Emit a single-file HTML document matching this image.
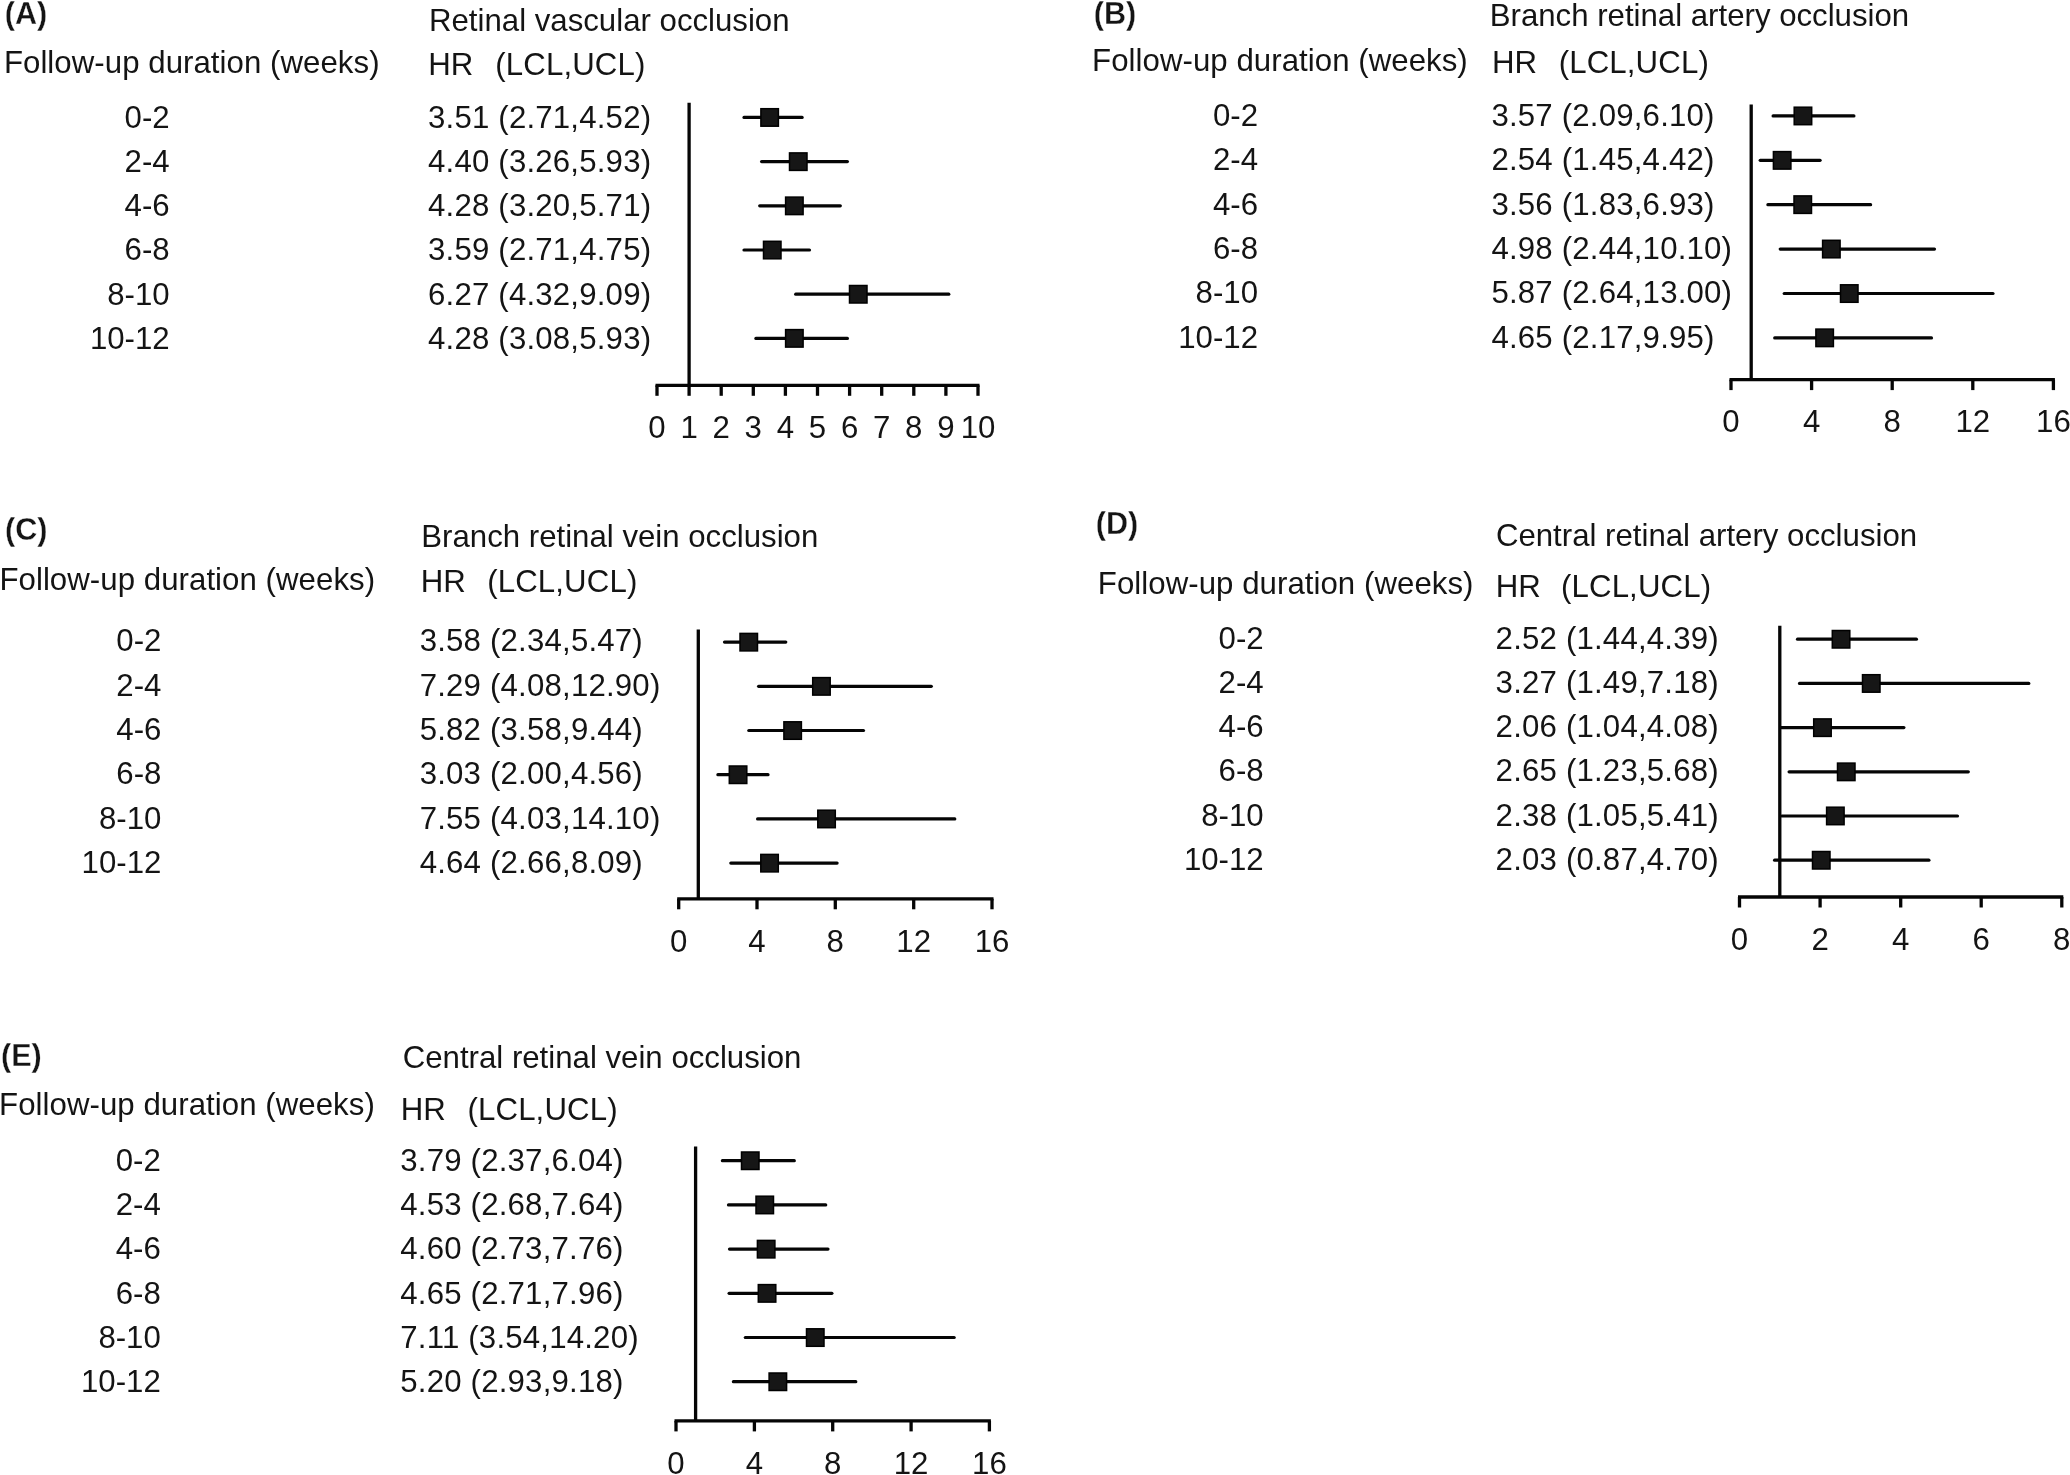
<!DOCTYPE html>
<html lang="en"><head><meta charset="utf-8"><title>Forest plots</title>
<style>
html,body{margin:0;padding:0;background:#fff}
body{width:2070px;height:1475px;overflow:hidden}
svg{display:block;filter:blur(0.55px)}
svg text{font-family:"Liberation Sans",sans-serif;font-size:31.2px;fill:#141414}
svg .b{font-weight:bold;font-size:30.6px;stroke:#fff;stroke-width:0.3px}
svg .v{letter-spacing:0.19px}
svg .w{letter-spacing:0.13px}
svg .h{letter-spacing:0.05px}
svg .e{text-anchor:end}
svg .m{text-anchor:middle}
svg .ln{stroke:#050505;fill:none}
svg .sq{fill:#161616;stroke:#000;stroke-width:1.5}
</style></head>
<body>
<svg width="2070" height="1475" viewBox="0 0 2070 1475">
<rect width="2070" height="1475" fill="#ffffff"/>
<g>
<text class="b" x="4.7" y="23.9">(A)</text>
<text x="429.0" y="31.4">Retinal vascular occlusion</text>
<text class="h" x="3.9" y="72.9">Follow-up duration (weeks)</text>
<text x="428.3" y="74.8">HR</text>
<text class="w" x="495.3" y="74.8">(LCL,UCL)</text>
<text class="e" x="169.7" y="127.8">0-2</text>
<text class="v" x="428.0" y="127.8">3.51 (2.71,4.52)</text>
<line class="ln" x1="744.0" y1="117.4" x2="802.1" y2="117.4" stroke-width="3.2" stroke-linecap="round"/>
<rect class="sq" x="760.9" y="108.7" width="17.5" height="17.5"/>
<text class="e" x="169.7" y="172.0">2-4</text>
<text class="v" x="428.0" y="172.0">4.40 (3.26,5.93)</text>
<line class="ln" x1="761.6" y1="161.6" x2="847.4" y2="161.6" stroke-width="3.2" stroke-linecap="round"/>
<rect class="sq" x="789.5" y="152.9" width="17.5" height="17.5"/>
<text class="e" x="169.7" y="216.2">4-6</text>
<text class="v" x="428.0" y="216.2">4.28 (3.20,5.71)</text>
<line class="ln" x1="759.7" y1="205.8" x2="840.3" y2="205.8" stroke-width="3.2" stroke-linecap="round"/>
<rect class="sq" x="785.6" y="197.1" width="17.5" height="17.5"/>
<text class="e" x="169.7" y="260.4">6-8</text>
<text class="v" x="428.0" y="260.4">3.59 (2.71,4.75)</text>
<line class="ln" x1="744.0" y1="250.0" x2="809.5" y2="250.0" stroke-width="3.2" stroke-linecap="round"/>
<rect class="sq" x="763.5" y="241.3" width="17.5" height="17.5"/>
<text class="e" x="169.7" y="304.6">8-10</text>
<text class="v" x="428.0" y="304.6">6.27 (4.32,9.09)</text>
<line class="ln" x1="795.7" y1="294.2" x2="948.8" y2="294.2" stroke-width="3.2" stroke-linecap="round"/>
<rect class="sq" x="849.5" y="285.5" width="17.5" height="17.5"/>
<text class="e" x="169.7" y="348.8">10-12</text>
<text class="v" x="428.0" y="348.8">4.28 (3.08,5.93)</text>
<line class="ln" x1="755.9" y1="338.4" x2="847.4" y2="338.4" stroke-width="3.2" stroke-linecap="round"/>
<rect class="sq" x="785.6" y="329.6" width="17.5" height="17.5"/>
<line class="ln" x1="689.1" y1="102.7" x2="689.1" y2="385.3" stroke-width="3.3"/>
<line class="ln" x1="655.5" y1="385.3" x2="979.5" y2="385.3" stroke-width="3.3"/>
<line class="ln" x1="657.0" y1="385.3" x2="657.0" y2="395.8" stroke-width="3.3"/>
<text class="m" x="657.0" y="437.5">0</text>
<line class="ln" x1="689.1" y1="385.3" x2="689.1" y2="395.8" stroke-width="3.3"/>
<text class="m" x="689.1" y="437.5">1</text>
<line class="ln" x1="721.2" y1="385.3" x2="721.2" y2="395.8" stroke-width="3.3"/>
<text class="m" x="721.2" y="437.5">2</text>
<line class="ln" x1="753.3" y1="385.3" x2="753.3" y2="395.8" stroke-width="3.3"/>
<text class="m" x="753.3" y="437.5">3</text>
<line class="ln" x1="785.4" y1="385.3" x2="785.4" y2="395.8" stroke-width="3.3"/>
<text class="m" x="785.4" y="437.5">4</text>
<line class="ln" x1="817.5" y1="385.3" x2="817.5" y2="395.8" stroke-width="3.3"/>
<text class="m" x="817.5" y="437.5">5</text>
<line class="ln" x1="849.6" y1="385.3" x2="849.6" y2="395.8" stroke-width="3.3"/>
<text class="m" x="849.6" y="437.5">6</text>
<line class="ln" x1="881.7" y1="385.3" x2="881.7" y2="395.8" stroke-width="3.3"/>
<text class="m" x="881.7" y="437.5">7</text>
<line class="ln" x1="913.8" y1="385.3" x2="913.8" y2="395.8" stroke-width="3.3"/>
<text class="m" x="913.8" y="437.5">8</text>
<line class="ln" x1="945.9" y1="385.3" x2="945.9" y2="395.8" stroke-width="3.3"/>
<text class="m" x="945.9" y="437.5">9</text>
<line class="ln" x1="978.0" y1="385.3" x2="978.0" y2="395.8" stroke-width="3.3"/>
<text class="m" x="978.0" y="437.5">10</text>
</g>
<g>
<text class="b" x="1093.8" y="24.0">(B)</text>
<text x="1489.7" y="26.4">Branch retinal artery occlusion</text>
<text class="h" x="1092.1" y="71.1">Follow-up duration (weeks)</text>
<text x="1492.0" y="72.5">HR</text>
<text class="w" x="1558.7" y="72.5">(LCL,UCL)</text>
<text class="e" x="1258.0" y="125.8">0-2</text>
<text class="v" x="1491.4" y="125.8">3.57 (2.09,6.10)</text>
<line class="ln" x1="1773.1" y1="115.9" x2="1853.9" y2="115.9" stroke-width="3.2" stroke-linecap="round"/>
<rect class="sq" x="1794.2" y="107.2" width="17.5" height="17.5"/>
<text class="e" x="1258.0" y="170.2">2-4</text>
<text class="v" x="1491.4" y="170.2">2.54 (1.45,4.42)</text>
<line class="ln" x1="1760.2" y1="160.3" x2="1820.1" y2="160.3" stroke-width="3.2" stroke-linecap="round"/>
<rect class="sq" x="1773.4" y="151.6" width="17.5" height="17.5"/>
<text class="e" x="1258.0" y="214.6">4-6</text>
<text class="v" x="1491.4" y="214.6">3.56 (1.83,6.93)</text>
<line class="ln" x1="1767.9" y1="204.7" x2="1870.6" y2="204.7" stroke-width="3.2" stroke-linecap="round"/>
<rect class="sq" x="1794.0" y="195.9" width="17.5" height="17.5"/>
<text class="e" x="1258.0" y="259.0">6-8</text>
<text class="v" x="1491.4" y="259.0">4.98 (2.44,10.10)</text>
<line class="ln" x1="1780.2" y1="249.1" x2="1934.5" y2="249.1" stroke-width="3.2" stroke-linecap="round"/>
<rect class="sq" x="1822.6" y="240.3" width="17.5" height="17.5"/>
<text class="e" x="1258.0" y="303.4">8-10</text>
<text class="v" x="1491.4" y="303.4">5.87 (2.64,13.00)</text>
<line class="ln" x1="1784.2" y1="293.5" x2="1993.0" y2="293.5" stroke-width="3.2" stroke-linecap="round"/>
<rect class="sq" x="1840.5" y="284.8" width="17.5" height="17.5"/>
<text class="e" x="1258.0" y="347.8">10-12</text>
<text class="v" x="1491.4" y="347.8">4.65 (2.17,9.95)</text>
<line class="ln" x1="1774.7" y1="337.9" x2="1931.5" y2="337.9" stroke-width="3.2" stroke-linecap="round"/>
<rect class="sq" x="1815.9" y="329.1" width="17.5" height="17.5"/>
<line class="ln" x1="1751.2" y1="104.5" x2="1751.2" y2="379.6" stroke-width="3.3"/>
<line class="ln" x1="1729.5" y1="379.6" x2="2054.9" y2="379.6" stroke-width="3.3"/>
<line class="ln" x1="1731.0" y1="379.6" x2="1731.0" y2="390.1" stroke-width="3.3"/>
<text class="m" x="1731.0" y="432.3">0</text>
<line class="ln" x1="1811.6" y1="379.6" x2="1811.6" y2="390.1" stroke-width="3.3"/>
<text class="m" x="1811.6" y="432.3">4</text>
<line class="ln" x1="1892.2" y1="379.6" x2="1892.2" y2="390.1" stroke-width="3.3"/>
<text class="m" x="1892.2" y="432.3">8</text>
<line class="ln" x1="1972.8" y1="379.6" x2="1972.8" y2="390.1" stroke-width="3.3"/>
<text class="m" x="1972.8" y="432.3">12</text>
<line class="ln" x1="2053.4" y1="379.6" x2="2053.4" y2="390.1" stroke-width="3.3"/>
<text class="m" x="2053.4" y="432.3">16</text>
</g>
<g>
<text class="b" x="5.0" y="540.2">(C)</text>
<text x="421.3" y="547.0">Branch retinal vein occlusion</text>
<text class="h" x="-0.6" y="590.0">Follow-up duration (weeks)</text>
<text x="420.7" y="591.8">HR</text>
<text class="w" x="487.2" y="591.8">(LCL,UCL)</text>
<text class="e" x="161.4" y="651.3">0-2</text>
<text class="v" x="419.7" y="651.3">3.58 (2.34,5.47)</text>
<line class="ln" x1="724.5" y1="642.1" x2="785.8" y2="642.1" stroke-width="3.2" stroke-linecap="round"/>
<rect class="sq" x="740.0" y="633.4" width="17.5" height="17.5"/>
<text class="e" x="161.4" y="695.6">2-4</text>
<text class="v" x="419.7" y="695.6">7.29 (4.08,12.90)</text>
<line class="ln" x1="758.6" y1="686.3" x2="931.3" y2="686.3" stroke-width="3.2" stroke-linecap="round"/>
<rect class="sq" x="812.7" y="677.6" width="17.5" height="17.5"/>
<text class="e" x="161.4" y="739.9">4-6</text>
<text class="v" x="419.7" y="739.9">5.82 (3.58,9.44)</text>
<line class="ln" x1="748.8" y1="730.5" x2="863.5" y2="730.5" stroke-width="3.2" stroke-linecap="round"/>
<rect class="sq" x="783.9" y="721.8" width="17.5" height="17.5"/>
<text class="e" x="161.4" y="784.2">6-8</text>
<text class="v" x="419.7" y="784.2">3.03 (2.00,4.56)</text>
<line class="ln" x1="717.9" y1="774.7" x2="768.0" y2="774.7" stroke-width="3.2" stroke-linecap="round"/>
<rect class="sq" x="729.3" y="766.0" width="17.5" height="17.5"/>
<text class="e" x="161.4" y="828.5">8-10</text>
<text class="v" x="419.7" y="828.5">7.55 (4.03,14.10)</text>
<line class="ln" x1="757.6" y1="818.9" x2="954.8" y2="818.9" stroke-width="3.2" stroke-linecap="round"/>
<rect class="sq" x="817.8" y="810.2" width="17.5" height="17.5"/>
<text class="e" x="161.4" y="872.8">10-12</text>
<text class="v" x="419.7" y="872.8">4.64 (2.66,8.09)</text>
<line class="ln" x1="730.8" y1="863.1" x2="837.1" y2="863.1" stroke-width="3.2" stroke-linecap="round"/>
<rect class="sq" x="760.8" y="854.4" width="17.5" height="17.5"/>
<line class="ln" x1="698.3" y1="629.6" x2="698.3" y2="898.8" stroke-width="3.3"/>
<line class="ln" x1="677.2" y1="898.8" x2="993.5" y2="898.8" stroke-width="3.3"/>
<line class="ln" x1="678.7" y1="898.8" x2="678.7" y2="909.3" stroke-width="3.3"/>
<text class="m" x="678.7" y="951.6">0</text>
<line class="ln" x1="757.0" y1="898.8" x2="757.0" y2="909.3" stroke-width="3.3"/>
<text class="m" x="757.0" y="951.6">4</text>
<line class="ln" x1="835.3" y1="898.8" x2="835.3" y2="909.3" stroke-width="3.3"/>
<text class="m" x="835.3" y="951.6">8</text>
<line class="ln" x1="913.7" y1="898.8" x2="913.7" y2="909.3" stroke-width="3.3"/>
<text class="m" x="913.7" y="951.6">12</text>
<line class="ln" x1="992.0" y1="898.8" x2="992.0" y2="909.3" stroke-width="3.3"/>
<text class="m" x="992.0" y="951.6">16</text>
</g>
<g>
<text class="b" x="1095.8" y="534.2">(D)</text>
<text x="1495.9" y="546.0">Central retinal artery occlusion</text>
<text class="h" x="1097.8" y="594.2">Follow-up duration (weeks)</text>
<text x="1495.7" y="597.0">HR</text>
<text class="w" x="1561.0" y="597.0">(LCL,UCL)</text>
<text class="e" x="1263.7" y="648.7">0-2</text>
<text class="v" x="1495.6" y="648.7">2.52 (1.44,4.39)</text>
<line class="ln" x1="1797.5" y1="639.2" x2="1916.4" y2="639.2" stroke-width="3.2" stroke-linecap="round"/>
<rect class="sq" x="1832.3" y="630.5" width="17.5" height="17.5"/>
<text class="e" x="1263.7" y="692.9">2-4</text>
<text class="v" x="1495.6" y="692.9">3.27 (1.49,7.18)</text>
<line class="ln" x1="1799.5" y1="683.4" x2="2028.8" y2="683.4" stroke-width="3.2" stroke-linecap="round"/>
<rect class="sq" x="1862.5" y="674.7" width="17.5" height="17.5"/>
<text class="e" x="1263.7" y="737.1">4-6</text>
<text class="v" x="1495.6" y="737.1">2.06 (1.04,4.08)</text>
<line class="ln" x1="1781.4" y1="727.6" x2="1903.9" y2="727.6" stroke-width="3.2" stroke-linecap="round"/>
<rect class="sq" x="1813.7" y="718.9" width="17.5" height="17.5"/>
<text class="e" x="1263.7" y="781.3">6-8</text>
<text class="v" x="1495.6" y="781.3">2.65 (1.23,5.68)</text>
<line class="ln" x1="1789.1" y1="771.8" x2="1968.3" y2="771.8" stroke-width="3.2" stroke-linecap="round"/>
<rect class="sq" x="1837.5" y="763.1" width="17.5" height="17.5"/>
<text class="e" x="1263.7" y="825.5">8-10</text>
<text class="v" x="1495.6" y="825.5">2.38 (1.05,5.41)</text>
<line class="ln" x1="1781.8" y1="816.0" x2="1957.5" y2="816.0" stroke-width="3.2" stroke-linecap="round"/>
<rect class="sq" x="1826.6" y="807.2" width="17.5" height="17.5"/>
<text class="e" x="1263.7" y="869.7">10-12</text>
<text class="v" x="1495.6" y="869.7">2.03 (0.87,4.70)</text>
<line class="ln" x1="1774.6" y1="860.2" x2="1928.9" y2="860.2" stroke-width="3.2" stroke-linecap="round"/>
<rect class="sq" x="1812.5" y="851.5" width="17.5" height="17.5"/>
<line class="ln" x1="1779.8" y1="625.8" x2="1779.8" y2="897.0" stroke-width="3.3"/>
<line class="ln" x1="1738.0" y1="897.0" x2="2063.3" y2="897.0" stroke-width="3.3"/>
<line class="ln" x1="1739.5" y1="897.0" x2="1739.5" y2="907.5" stroke-width="3.3"/>
<text class="m" x="1739.5" y="949.7">0</text>
<line class="ln" x1="1820.1" y1="897.0" x2="1820.1" y2="907.5" stroke-width="3.3"/>
<text class="m" x="1820.1" y="949.7">2</text>
<line class="ln" x1="1900.7" y1="897.0" x2="1900.7" y2="907.5" stroke-width="3.3"/>
<text class="m" x="1900.7" y="949.7">4</text>
<line class="ln" x1="1981.2" y1="897.0" x2="1981.2" y2="907.5" stroke-width="3.3"/>
<text class="m" x="1981.2" y="949.7">6</text>
<line class="ln" x1="2061.8" y1="897.0" x2="2061.8" y2="907.5" stroke-width="3.3"/>
<text class="m" x="2061.8" y="949.7">8</text>
</g>
<g>
<text class="b" x="1.0" y="1066.0">(E)</text>
<text x="402.7" y="1067.7">Central retinal vein occlusion</text>
<text class="h" x="-0.9" y="1115.0">Follow-up duration (weeks)</text>
<text x="400.8" y="1120.0">HR</text>
<text class="w" x="467.5" y="1120.0">(LCL,UCL)</text>
<text class="e" x="160.8" y="1170.5">0-2</text>
<text class="v" x="400.3" y="1170.5">3.79 (2.37,6.04)</text>
<line class="ln" x1="722.4" y1="1160.7" x2="794.3" y2="1160.7" stroke-width="3.2" stroke-linecap="round"/>
<rect class="sq" x="741.5" y="1152.0" width="17.5" height="17.5"/>
<text class="e" x="160.8" y="1214.8">2-4</text>
<text class="v" x="400.3" y="1214.8">4.53 (2.68,7.64)</text>
<line class="ln" x1="728.5" y1="1204.9" x2="825.7" y2="1204.9" stroke-width="3.2" stroke-linecap="round"/>
<rect class="sq" x="756.0" y="1196.2" width="17.5" height="17.5"/>
<text class="e" x="160.8" y="1259.2">4-6</text>
<text class="v" x="400.3" y="1259.2">4.60 (2.73,7.76)</text>
<line class="ln" x1="729.5" y1="1249.1" x2="828.0" y2="1249.1" stroke-width="3.2" stroke-linecap="round"/>
<rect class="sq" x="757.4" y="1240.4" width="17.5" height="17.5"/>
<text class="e" x="160.8" y="1303.5">6-8</text>
<text class="v" x="400.3" y="1303.5">4.65 (2.71,7.96)</text>
<line class="ln" x1="729.1" y1="1293.3" x2="831.9" y2="1293.3" stroke-width="3.2" stroke-linecap="round"/>
<rect class="sq" x="758.3" y="1284.6" width="17.5" height="17.5"/>
<text class="e" x="160.8" y="1347.9">8-10</text>
<text class="v" x="400.3" y="1347.9">7.11 (3.54,14.20)</text>
<line class="ln" x1="745.3" y1="1337.5" x2="954.2" y2="1337.5" stroke-width="3.2" stroke-linecap="round"/>
<rect class="sq" x="806.5" y="1328.8" width="17.5" height="17.5"/>
<text class="e" x="160.8" y="1392.2">10-12</text>
<text class="v" x="400.3" y="1392.2">5.20 (2.93,9.18)</text>
<line class="ln" x1="733.4" y1="1381.7" x2="855.8" y2="1381.7" stroke-width="3.2" stroke-linecap="round"/>
<rect class="sq" x="769.1" y="1373.0" width="17.5" height="17.5"/>
<line class="ln" x1="695.6" y1="1146.5" x2="695.6" y2="1420.9" stroke-width="3.3"/>
<line class="ln" x1="674.5" y1="1420.9" x2="990.9" y2="1420.9" stroke-width="3.3"/>
<line class="ln" x1="676.0" y1="1420.9" x2="676.0" y2="1431.4" stroke-width="3.3"/>
<text class="m" x="676.0" y="1473.9">0</text>
<line class="ln" x1="754.4" y1="1420.9" x2="754.4" y2="1431.4" stroke-width="3.3"/>
<text class="m" x="754.4" y="1473.9">4</text>
<line class="ln" x1="832.7" y1="1420.9" x2="832.7" y2="1431.4" stroke-width="3.3"/>
<text class="m" x="832.7" y="1473.9">8</text>
<line class="ln" x1="911.1" y1="1420.9" x2="911.1" y2="1431.4" stroke-width="3.3"/>
<text class="m" x="911.1" y="1473.9">12</text>
<line class="ln" x1="989.4" y1="1420.9" x2="989.4" y2="1431.4" stroke-width="3.3"/>
<text class="m" x="989.4" y="1473.9">16</text>
</g>
</svg>
</body></html>
